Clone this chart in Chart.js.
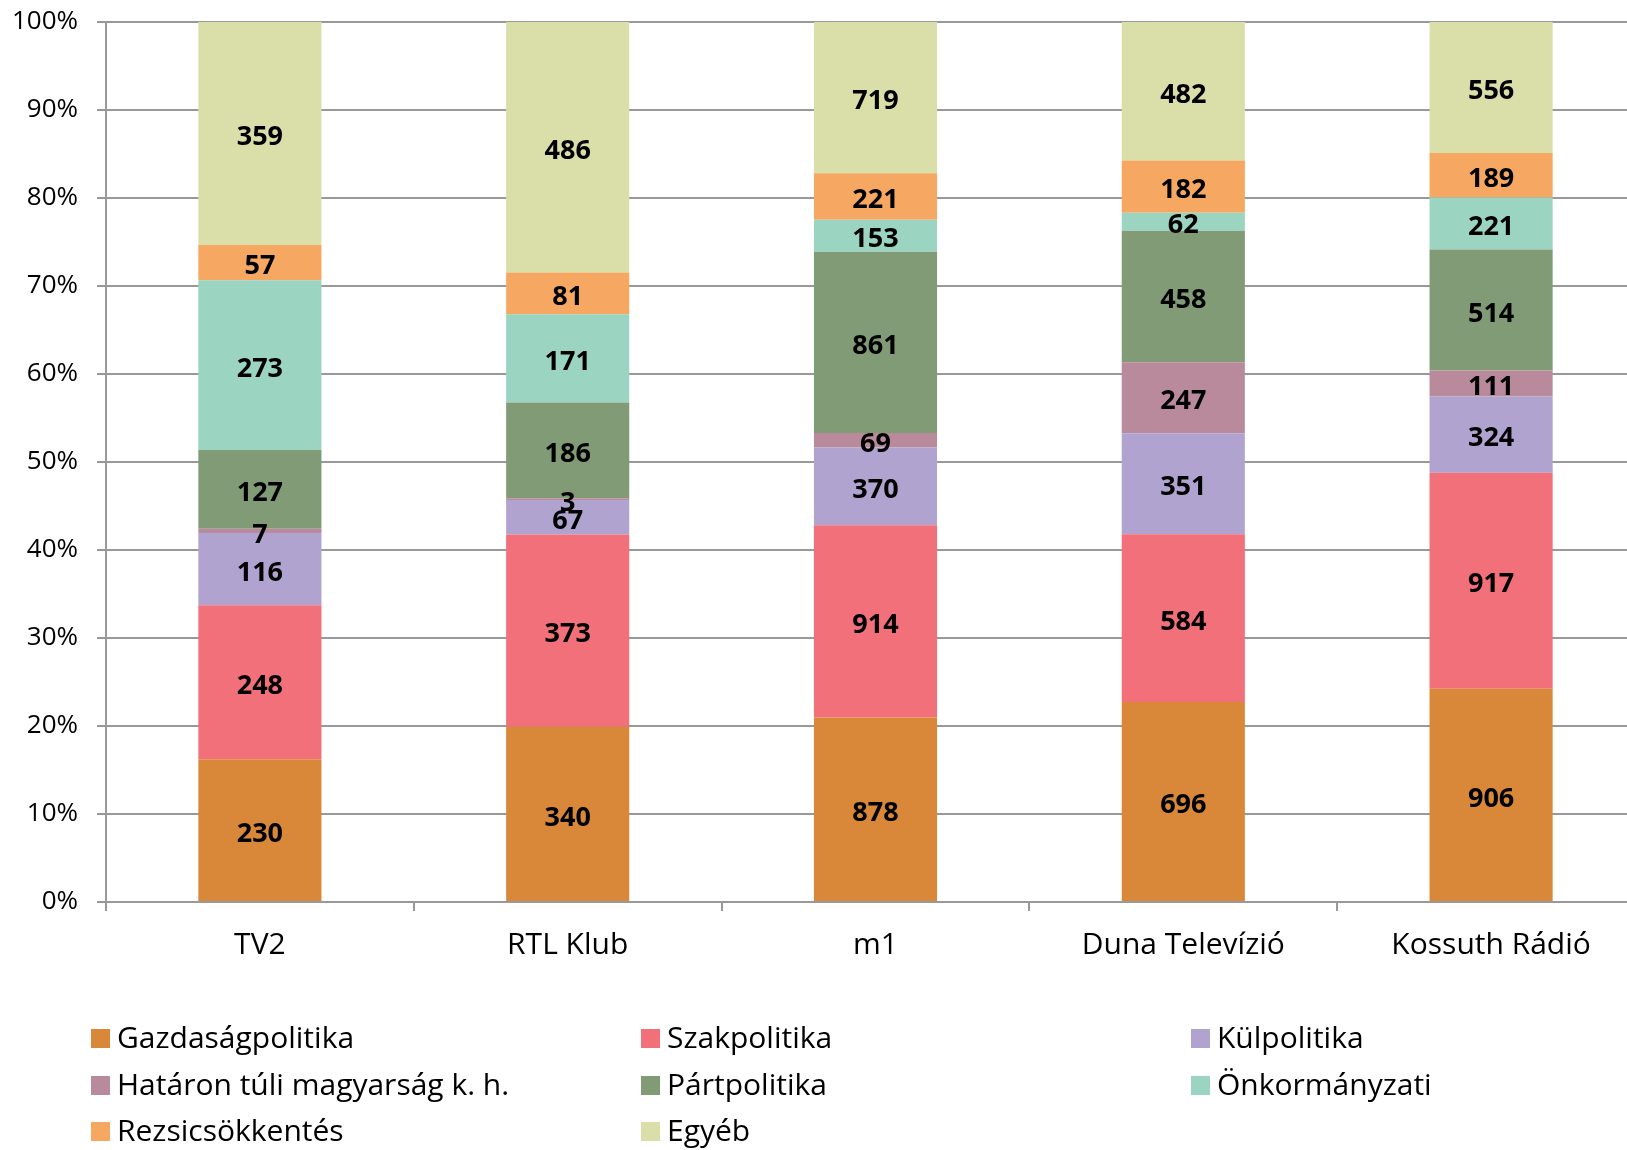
<!DOCTYPE html>
<html>
<head>
<meta charset="utf-8">
<script src="https://cdn.jsdelivr.net/npm/chart.js@4.4.0/dist/chart.umd.min.js"></script>
<style>
  html, body { margin: 0; padding: 0; background: #fff; overflow: hidden; }
  #wrap { width: 1627px; height: 1150px; overflow: hidden; }
</style>
</head>
<body>
<div id="wrap"><canvas id="stackChart" width="1645" height="1150"></canvas></div>
<script>
const channels = ['TV2', 'RTL Klub', 'm1', 'Duna Televízió', 'Kossuth Rádió'];

const gazdasagpolitika = [230, 340, 878, 696, 906];
const szakpolitika     = [248, 373, 914, 584, 917];
const kulpolitika      = [116, 67, 370, 351, 324];
const hataronTuli      = [7, 3, 69, 247, 111];
const partpolitika     = [127, 186, 861, 458, 514];
const onkormanyzati    = [273, 171, 153, 62, 221];
const rezsicsokkentes  = [57, 81, 221, 182, 189];
const egyeb            = [359, 486, 719, 482, 556];

const yTicks = [0, 10, 20, 30, 40, 50, 60, 70, 80, 90, 100];

const series = [
  { name: 'Gazdaságpolitika', values: gazdasagpolitika, color: '#D9883A' },
  { name: 'Szakpolitika', values: szakpolitika, color: '#F1707A' },
  { name: 'Külpolitika', values: kulpolitika, color: '#B0A3CF' },
  { name: 'Határon túli magyarság k. h.', values: hataronTuli, color: '#B98A9C' },
  { name: 'Pártpolitika', values: partpolitika, color: '#809B76' },
  { name: 'Önkormányzati', values: onkormanyzati, color: '#9BD4C0' },
  { name: 'Rezsicsökkentés', values: rezsicsokkentes, color: '#F6A862' },
  { name: 'Egyéb', values: egyeb, color: '#DADFAA' }
];

// totals per channel, for the 100% stacking
const totals = channels.map((c, i) => series.reduce((s, d) => s + d.values[i], 0));

const FONT = "'Open Sans', 'DejaVu Sans', sans-serif";

const segmentLabels = {
  id: 'segmentLabels',
  afterDatasetsDraw(chart) {
    const ctx = chart.ctx;
    ctx.save();
    ctx.font = 'bold 27px ' + FONT;
    ctx.fillStyle = '#000';
    ctx.textAlign = 'center';
    ctx.textBaseline = 'middle';
    chart.data.datasets.forEach((ds, di) => {
      chart.getDatasetMeta(di).data.forEach((bar, i) => {
        const p = bar.getProps(['x', 'y', 'base'], true);
        ctx.fillText(String(ds.raw[i]), p.x, (p.y + p.base) / 2 + 4);
      });
    });
    ctx.restore();
  }
};

// legend in three columns under the axis
const gridLegend = {
  id: 'gridLegend',
  afterDraw(chart) {
    const ctx = chart.ctx;
    const colX = [91, 641, 1191];
    const rowY = [1038, 1085, 1131];
    ctx.save();
    ctx.font = '30px ' + FONT;
    ctx.textBaseline = 'middle';
    ctx.textAlign = 'left';
    series.forEach((s, k) => {
      const x = colX[k % 3];
      const y = rowY[Math.floor(k / 3)];
      ctx.fillStyle = s.color;
      ctx.fillRect(x, y - 9, 19, 19);
      ctx.fillStyle = '#000';
      ctx.fillText(s.name, x + 26, y + 1);
    });
    ctx.restore();
  }
};

const ctx = document.getElementById('stackChart').getContext('2d');
new Chart(ctx, {
  type: 'bar',
  data: {
    labels: channels,
    datasets: series.map(s => ({
      label: s.name,
      data: s.values.map((v, i) => v / totals[i] * 100),
      raw: s.values,
      backgroundColor: s.color,
      borderWidth: 0,
      barPercentage: 0.4,
      categoryPercentage: 1
    }))
  },
  options: {
    responsive: false,
    animation: false,
    layout: { padding: { top: 22, right: 0, bottom: 173, left: 0 } },
    plugins: {
      legend: { display: false },
      tooltip: { enabled: false }
    },
    scales: {
      x: {
        stacked: true,
        afterFit(scale) {
          scale.height = 75;
          scale.paddingLeft = 0;
          scale.paddingRight = 0;
        },
        grid: {
          display: true,
          drawOnChartArea: false,
          offset: true,
          color: '#999',
          lineWidth: 2,
          tickLength: 9
        },
        border: { color: '#999', width: 2 },
        ticks: {
          color: '#000',
          padding: 16,
          font: { family: FONT, size: 30 }
        }
      },
      y: {
        stacked: true,
        min: 0,
        max: 100,
        afterFit(scale) {
          scale.width = 106;
          scale.paddingTop = 0;
          scale.paddingBottom = 0;
        },
        afterBuildTicks(scale) { scale.ticks = yTicks.map(v => ({ value: v })); },
        grid: { color: '#999', lineWidth: 2, tickLength: 9 },
        border: { color: '#999', width: 2 },
        ticks: {
          color: '#000',
          padding: 19,
          font: { family: FONT, size: 26 },
          callback: v => v + '%'
        }
      }
    }
  },
  plugins: [segmentLabels, gridLegend]
});
</script>
</body>
</html>
